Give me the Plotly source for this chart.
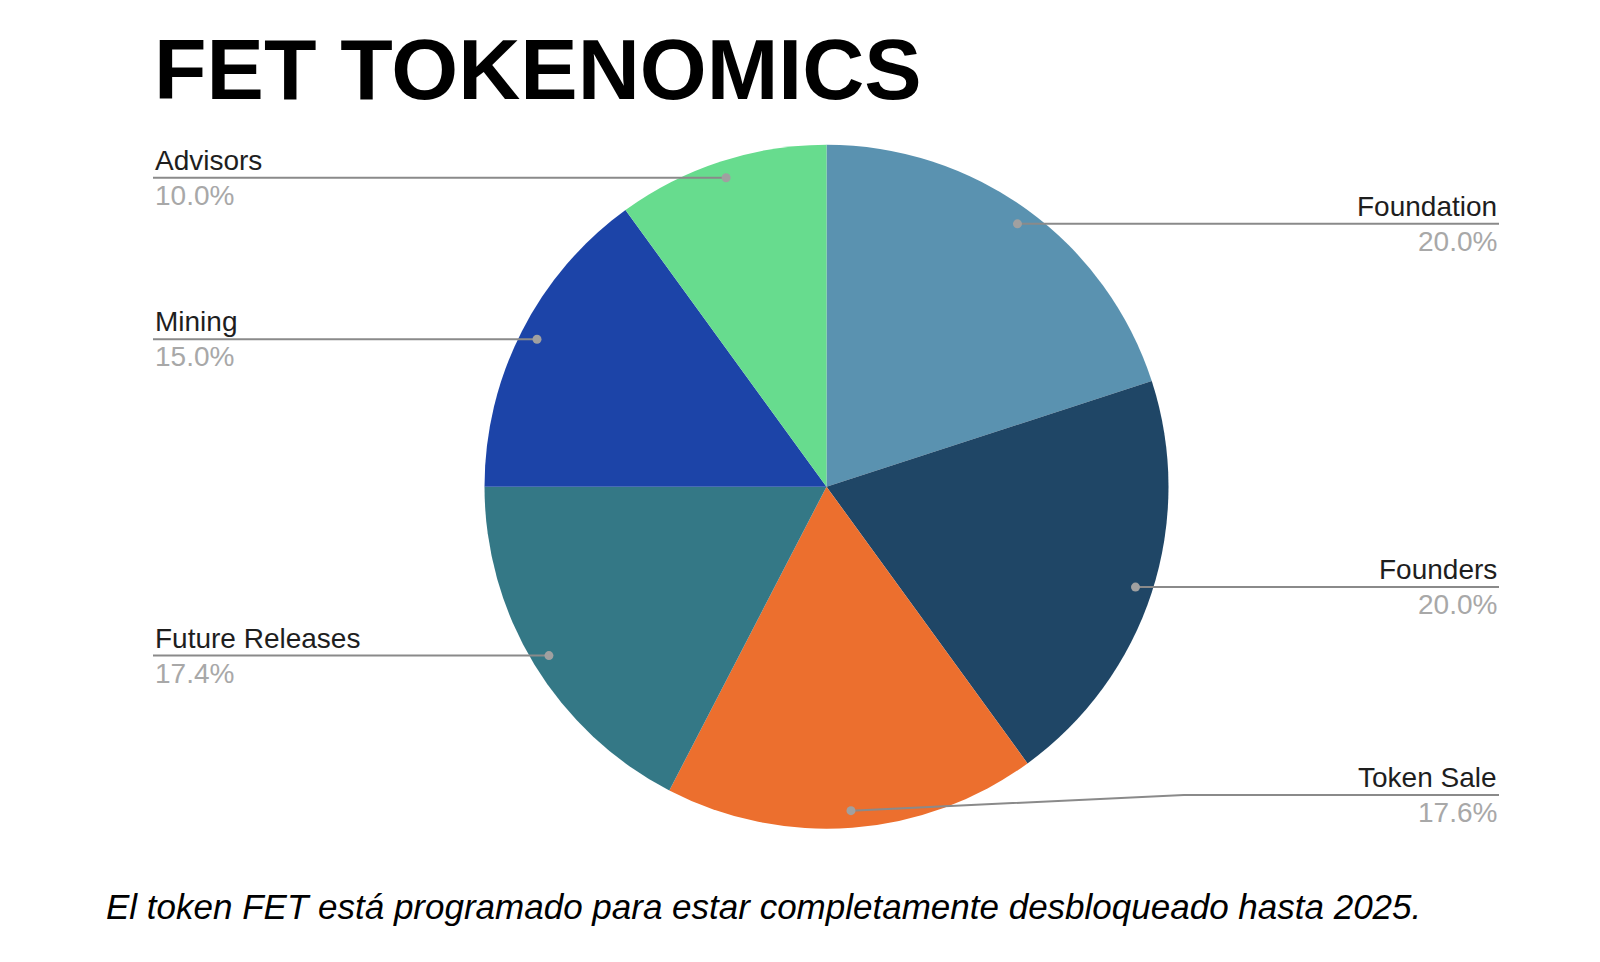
import math
import plotly.graph_objects as go

# ---- data ----
labels = ["Foundation", "Founders", "Token Sale", "Future Releases", "Mining", "Advisors"]
values = [20.0, 20.0, 17.6, 17.4, 15.0, 10.0]
colors = ["#5A92B0", "#1F4666", "#EC6F2E", "#347886", "#1C44A8", "#67DC8E"]
title_text = "FET TOKENOMICS"
caption_text = "El token FET está programado para estar completamente desbloqueado hasta 2025."

# ---- layout constants (pixels) ----
W, H = 1600, 962
CX, CY, R = 826.5, 486.7, 342.0
DOT_R = 0.95 * R
LEFT_X, RIGHT_X = 153.0, 1499.0
LABEL_MAX_Y = 795.0
BEND_X = 1184.0
LABEL_FONT = "Liberation Sans, Arial, sans-serif"

def px(x):
    return x / W

def py(y):
    return 1 - y / H

fig = go.Figure()
fig.add_trace(go.Pie(
    labels=labels, values=values, sort=False, direction="clockwise", rotation=0,
    marker=dict(colors=colors, line=dict(width=0)),
    textinfo="none", hoverinfo="label+percent", showlegend=False,
    domain=dict(x=[px(CX - R), px(CX + R)], y=[py(CY + R), py(CY - R)]),
))

shapes = []
annotations = []
total = sum(values)
cum = 0.0
for lab, v in zip(labels, values):
    mid = (cum + v / 2) / total * 2 * math.pi
    cum += v
    dx = CX + DOT_R * math.sin(mid)
    dy = CY - DOT_R * math.cos(mid)
    right = math.sin(mid) > 0
    ly = min(dy, LABEL_MAX_Y)
    if right:
        if abs(ly - dy) > 0.5:
            path = f"M {px(dx)} {py(dy)} L {px(BEND_X)} {py(ly)} L {px(RIGHT_X)} {py(ly)}"
        else:
            path = f"M {px(dx)} {py(dy)} L {px(RIGHT_X)} {py(ly)}"
        tx, anchor = RIGHT_X, "right"
    else:
        path = f"M {px(LEFT_X)} {py(ly)} L {px(dx)} {py(dy)}"
        tx, anchor = LEFT_X, "left"
    shapes.append(dict(type="path", path=path, xref="paper", yref="paper",
                       line=dict(color="#8a8a8a", width=2)))
    shapes.append(dict(type="circle", xref="paper", yref="paper",
                       x0=px(dx - 4.5), x1=px(dx + 4.5), y0=py(dy + 4.5), y1=py(dy - 4.5),
                       fillcolor="#a0a0a0", line=dict(width=0)))
    pct = v / total * 100
    annotations.append(dict(text=lab, x=px(tx), y=py(ly - 17.5), xref="paper", yref="paper",
                            xanchor=anchor, yanchor="middle", showarrow=False,
                            font=dict(family=LABEL_FONT, size=28, color="#1e1e1e")))
    annotations.append(dict(text=f"{pct:.1f}%", x=px(tx), y=py(ly + 17.5), xref="paper", yref="paper",
                            xanchor=anchor, yanchor="middle", showarrow=False,
                            font=dict(family=LABEL_FONT, size=28, color="#a8a8a8")))

annotations.append(dict(text=f"<b>{title_text}</b>", x=px(152), y=py(69.5), xref="paper", yref="paper",
                        xanchor="left", yanchor="middle", showarrow=False,
                        font=dict(family=LABEL_FONT, size=86, color="#000000")))
annotations.append(dict(text=f"<i>{caption_text}</i>", x=px(104), y=py(906), xref="paper", yref="paper",
                        xanchor="left", yanchor="middle", showarrow=False,
                        font=dict(family=LABEL_FONT, size=35, color="#000000")))

fig.update_layout(
    width=W, height=H, margin=dict(l=0, r=0, t=0, b=0),
    paper_bgcolor="white", plot_bgcolor="white",
    shapes=shapes, annotations=annotations,
)
fig.write_html("out.html")
